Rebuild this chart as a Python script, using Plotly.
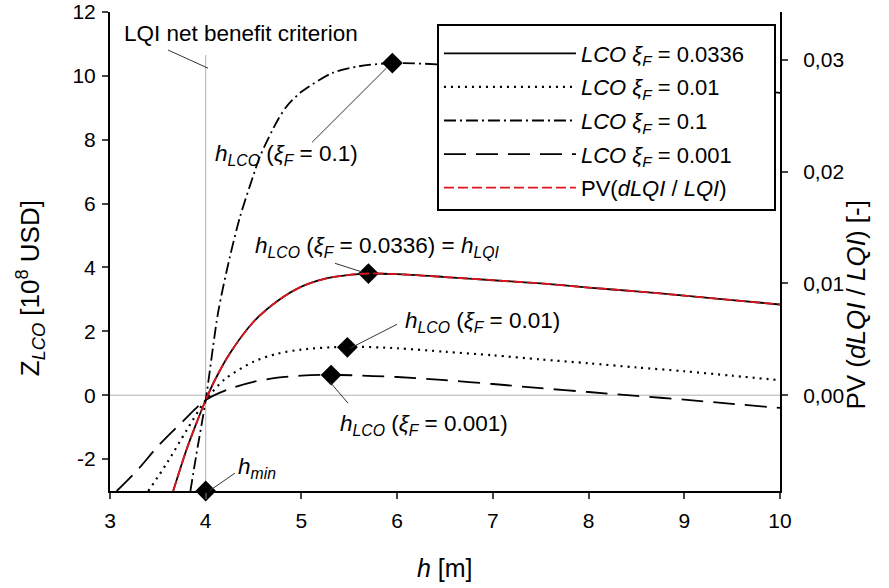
import plotly.graph_objects as go

# ---------------- data ----------------
h_0336 = [3.66, 3.8, 3.9, 4.0, 4.1, 4.25, 4.5, 4.75, 5.0, 5.25, 5.5, 5.7, 6.0, 6.5, 7.0, 7.5, 8.0, 8.5, 9.0, 9.5, 10.0]
z_0336 = [-3.0, -1.7, -0.9, -0.15, 0.5, 1.3, 2.3, 2.95, 3.4, 3.65, 3.77, 3.81, 3.79, 3.7, 3.6, 3.5, 3.37, 3.25, 3.12, 2.98, 2.84]

h_001 = [3.40, 3.6, 3.8, 4.0, 4.2, 4.5, 4.75, 5.0, 5.48, 6.0, 6.5, 7.0, 7.5, 8.0, 8.5, 9.0, 9.5, 10.0]
z_001 = [-3.0, -2.1, -1.1, -0.15, 0.5, 1.05, 1.3, 1.43, 1.52, 1.47, 1.36, 1.25, 1.12, 1.0, 0.87, 0.75, 0.61, 0.47]

h_01 = [3.84, 3.9, 4.0, 4.13, 4.25, 4.36, 4.5, 4.57, 4.75, 4.85, 5.0, 5.33, 5.6, 5.95, 6.5, 7.0, 7.5, 8.0, 8.5, 9.0, 9.5, 10.0]
z_01 = [-3.0, -1.9, -0.15, 2.6, 4.3, 5.6, 6.9, 7.5, 8.6, 9.06, 9.5, 10.1, 10.3, 10.4, 10.35, 10.25, 10.1, 9.98, 9.85, 9.72, 9.6, 9.47]

h_0001 = [3.07, 3.3, 3.5, 3.75, 4.0, 4.25, 4.5, 4.75, 5.0, 5.31, 5.75, 6.0, 6.5, 7.0, 7.5, 8.0, 8.5, 9.0, 9.5, 10.0]
z_0001 = [-3.0, -2.3, -1.6, -0.85, -0.15, 0.2, 0.42, 0.55, 0.61, 0.64, 0.6, 0.57, 0.47, 0.35, 0.22, 0.1, -0.02, -0.14, -0.27, -0.4]

h_pv = [3.66, 3.8, 3.9, 4.0, 4.1, 4.25, 4.5, 4.75, 5.0, 5.25, 5.5, 5.7, 6.0, 6.5, 7.0, 7.5, 8.0, 8.5, 9.0, 9.5, 10.0]
pv = [-0.00857, -0.00486, -0.00257, -0.00043, 0.00143, 0.00371, 0.00657, 0.00843, 0.00971, 0.01043, 0.01077,
      0.01089, 0.01083, 0.01057, 0.01029, 0.01000, 0.00963, 0.00929, 0.00891, 0.00851, 0.00811]

# optimum markers
opt_h = [5.95, 5.7, 5.48, 5.31, 4.0]
opt_z = [10.4, 3.81, 1.5, 0.63, -3.0]

h_min = 4.0
criterion_top = 10.65

x_ticks = [3, 4, 5, 6, 7, 8, 9, 10]
y_ticks = [-2, 0, 2, 4, 6, 8, 10, 12]
y_text = ["-2", "0", "2", "4", "6", "8", "10", "12"]
y2_ticks = [0.0, 0.01, 0.02, 0.03]
y2_text = ["0,00", "0,01", "0,02", "0,03"]

FONT = "Liberation Sans, Arial, sans-serif"
XI = "<i>ξ<sub>F</sub></i>"
NB = "\u00a0"

fig = go.Figure()

# reference lines (gray)
fig.add_trace(go.Scatter(x=[3, 10], y=[0, 0], mode="lines", line=dict(color="#b0b0b0", width=1),
                         showlegend=False, hoverinfo="skip"))
fig.add_trace(go.Scatter(x=[h_min, h_min], y=[-3, criterion_top], mode="lines",
                         line=dict(color="#b0b0b0", width=1), showlegend=False, hoverinfo="skip"))

fig.add_trace(go.Scatter(x=h_0336, y=z_0336, mode="lines", name=f"<i>LCO</i> {XI} = 0.0336" + NB * 4, legendgroup="a",
                         line=dict(color="black", width=1.8, shape="spline", smoothing=0.8)))
fig.add_trace(go.Scatter(x=h_001, y=z_001, mode="lines", name=f"<i>LCO</i> {XI} = 0.01", legendgroup="b",
                         line=dict(color="black", width=2.2, dash="2px,5px", shape="spline", smoothing=0.8)))
fig.add_trace(go.Scatter(x=h_01, y=z_01, mode="lines", name=f"<i>LCO</i> {XI} = 0.1", legendgroup="c",
                         line=dict(color="black", width=1.8, dash="12px,4px,2px,4px", shape="spline", smoothing=0.8)))
fig.add_trace(go.Scatter(x=h_0001, y=z_0001, mode="lines", name=f"<i>LCO</i> {XI} = 0.001", legendgroup="d",
                         line=dict(color="black", width=1.8, dash="22px,10px", shape="spline", smoothing=0.8)))
fig.add_trace(go.Scatter(x=h_pv, y=pv, mode="lines", name="PV(<i>dLQI</i> / <i>LQI</i>)", yaxis="y2", legendgroup="e",
                         line=dict(color="#e0141e", width=1.8, dash="10px,4px", shape="spline", smoothing=0.8)))

fig.add_trace(go.Scatter(x=opt_h, y=opt_z, mode="markers", showlegend=False, cliponaxis=False,
                         marker=dict(symbol="diamond", size=16, color="black")))

# leader lines
leaders = [
    (3.606, 10.81, 4.024, 10.24),
    (5.111, 7.92, 5.89, 10.25),
    (5.351, 4.13, 5.643, 3.85),
    (5.999, 2.22, 5.508, 1.47),
    (5.487, -0.25, 5.299, 0.41),
    (4.306, -2.44, 4.045, -2.98),
]
shapes = [dict(type="line", xref="x", yref="y", x0=a, y0=b, x1=c, y1=d,
               line=dict(color="#333333", width=1)) for a, b, c, d in leaders]

HL = "<i>h<sub>LCO</sub></i>"
labels = [
    (3.125, 11.34, "LQI net benefit criterion"),
    (4.076, 7.52, f"{HL} ({XI} = 0.1)"),
    (4.494, 4.64, f"{HL} ({XI} = 0.0336) = <i>h<sub>LQI</sub></i>"),
    (6.061, 2.29, f"{HL} ({XI} = 0.01)"),
    (5.382, -0.94, f"{HL} ({XI} = 0.001)"),
    (4.317, -2.29, "<i>h<sub>min</sub></i>"),
]
annotations = [dict(x=x, y=y, xref="x", yref="y", text=t, showarrow=False, xanchor="left", yanchor="middle",
                    font=dict(size=22.5, color="black", family=FONT)) for x, y, t in labels]

# axis titles as annotations (positions in plot-area fractions)
annotations += [
    dict(x=-0.119, y=0.424, xref="paper", yref="paper", textangle=-90, showarrow=False,
         xanchor="center", yanchor="middle",
         text="Z<sub><i>LCO</i></sub> [10<sup>8</sup> USD]", font=dict(size=26, family=FONT, color="black")),
    dict(x=1.114, y=0.39, xref="paper", yref="paper", textangle=-90, showarrow=False,
         xanchor="center", yanchor="middle",
         text="PV (<i>dLQI</i> / <i>LQI</i>) [-]", font=dict(size=26, family=FONT, color="black")),
    dict(x=0.5, y=-0.161, xref="paper", yref="paper", showarrow=False,
         xanchor="center", yanchor="middle",
         text="<i>h</i> [m]", font=dict(size=25, family=FONT, color="black")),
]

axis_common = dict(showgrid=False, zeroline=False, showline=True, linecolor="black", linewidth=2,
                   ticks="outside", ticklen=6, tickwidth=2, tickfont=dict(size=21), automargin=False,
                   ticklabeloverflow="allow")

fig.update_layout(
    width=889, height=588,
    margin=dict(l=110, r=109, t=12, b=97),
    paper_bgcolor="white", plot_bgcolor="white",
    font=dict(family=FONT, color="black", size=20),
    separators=",.",
    showlegend=True,
    legend=dict(x=0.488, y=0.975, xanchor="left", yanchor="top", bgcolor="white",
                bordercolor="black", borderwidth=2, font=dict(size=22), itemwidth=132,
                tracegroupgap=2, title=dict(text=NB, font=dict(size=5))),
    xaxis=dict(range=[3, 10], tickvals=x_ticks, ticklabelstandoff=4, **axis_common),
    yaxis=dict(range=[-3, 12], tickvals=y_ticks, ticktext=y_text, ticklabelstandoff=2, **axis_common),
    yaxis2=dict(range=[-3 / 350, 12 / 350], overlaying="y", side="right", tickvals=y2_ticks, ticktext=y2_text,
                ticklabelstandoff=11, **axis_common),
    shapes=shapes,
    annotations=annotations,
)

fig.write_html("out.html", config={"displayModeBar": False},
               post_script="document.body.style.margin='0px';")
